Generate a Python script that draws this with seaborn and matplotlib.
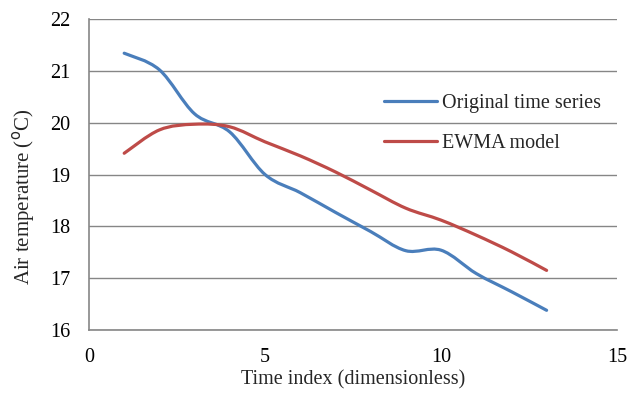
import numpy as np
import pandas as pd
import matplotlib
matplotlib.use("Agg")
import matplotlib.pyplot as plt
from matplotlib.path import Path
from matplotlib.patches import PathPatch
from matplotlib.lines import Line2D
import seaborn as sns

time_index = [1, 2, 3, 4, 5, 6, 7, 8, 9, 10, 11, 12, 13]
original = [21.34, 21.02, 20.17, 19.82, 19.00, 18.65, 18.27, 17.90, 17.53, 17.54, 17.09, 16.74, 16.38]
ewma = [19.41, 19.86, 19.97, 19.92, 19.63, 19.36, 19.05, 18.70, 18.35, 18.12, 17.83, 17.51, 17.15]
series_names = ["Original time series", "EWMA model"]
colors = ["#4A7EBB", "#BE4B48"]
x_ticks = [0, 5, 10, 15]
y_ticks = [16, 17, 18, 19, 20, 21, 22]

sns.set_style("white")
plt.rcParams["font.family"] = ["Liberation Serif", "DejaVu Serif"]

df = pd.DataFrame({
    "t": time_index * 2,
    "v": original + ewma,
    "s": [series_names[0]] * len(original) + [series_names[1]] * len(ewma),
})

FS = 14.5

fig = plt.figure(figsize=(6.27, 3.94), dpi=100)
ax = fig.add_axes([89 / 627, 1 - 330 / 394, (617 - 89) / 627, (330 - 19) / 394])

sns.lineplot(data=df, x="t", y="v", hue="s", palette=colors, ax=ax, legend=False,
             linewidth=2.3)


def smooth_path(xs, ys):
    pts = np.column_stack([xs, ys])
    n = len(pts)
    verts = [pts[0]]
    codes = [Path.MOVETO]
    for i in range(n - 1):
        p0 = pts[i - 1] if i > 0 else pts[i]
        p1 = pts[i]
        p2 = pts[i + 1]
        p3 = pts[i + 2] if i + 2 < n else pts[i + 1]
        c1 = p1 + (p2 - p0) / 6.0
        c2 = p2 - (p3 - p1) / 6.0
        verts += [c1, c2, p2]
        codes += [Path.CURVE4] * 3
    return Path(verts, codes)


# Replace straight segments with smoothed curves (Excel-style smoothing)
for line, col in zip(list(ax.lines), colors):
    xs, ys = np.asarray(line.get_xdata()), np.asarray(line.get_ydata())
    line.set_visible(False)
    patch = PathPatch(smooth_path(xs, ys), fill=False, edgecolor=col, lw=2.3,
                      capstyle="round", joinstyle="round", zorder=3)
    ax.add_patch(patch)

ax.set_xlim(0, 15)
ax.set_ylim(16, 22)
ax.set_xticks(x_ticks)
ax.set_yticks(y_ticks)
ax.yaxis.grid(True, color="#868686", linewidth=1.0)
ax.xaxis.grid(False)
ax.set_axisbelow(True)
for s in ["top", "right"]:
    ax.spines[s].set_visible(False)
for s in ["left", "bottom"]:
    ax.spines[s].set_color("#868686")
    ax.spines[s].set_linewidth(1.2)
ax.tick_params(axis="both", direction="out", length=4.3, width=1.2, color="#868686",
               labelsize=FS, labelcolor="black")
ax.tick_params(axis="y", pad=9)
ax.tick_params(axis="x", pad=8.5)
ax.set_xlabel("Time index (dimensionless)", fontsize=FS, labelpad=2.5)
ax.set_ylabel("Air temperature ($^{\\rm o}$C)", fontsize=15)
ax.yaxis.set_label_coords(-0.098, 0.43)

handles = [Line2D([0], [0], color=c, lw=2.3) for c in colors]
ax.legend(handles, series_names, frameon=False, fontsize=FS,
          loc="center left", bbox_to_anchor=(0.54, 0.664), handlelength=2.6,
          handletextpad=0.25, labelspacing=1.0, borderpad=0)

fig.savefig("out.png", dpi=100)
